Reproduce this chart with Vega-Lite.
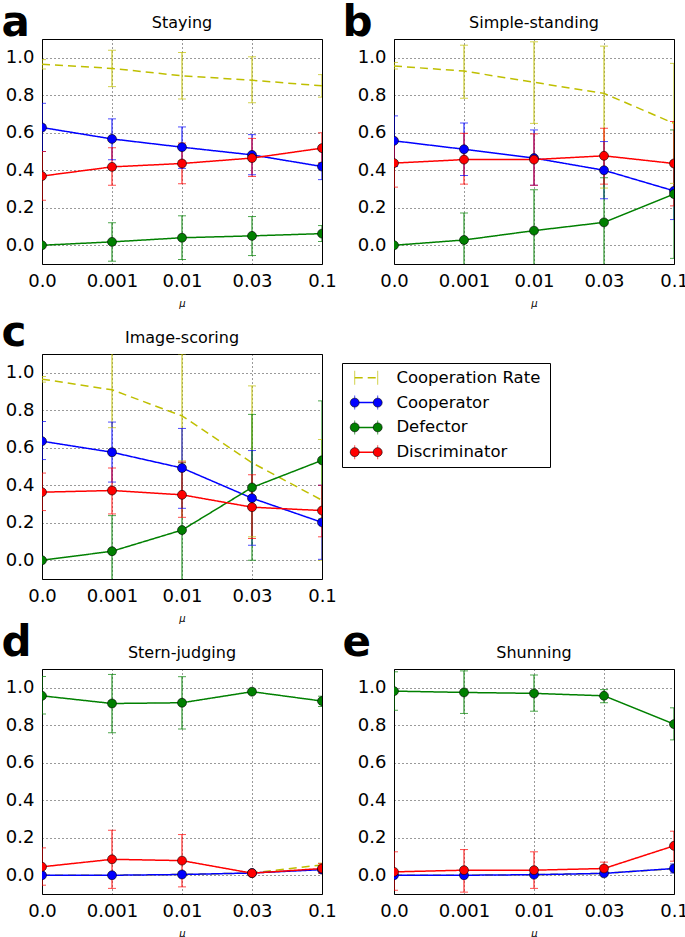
{
"$schema": "https://vega.github.io/schema/vega-lite/v6.json",
"padding": 0,
"background": "white",
"datasets": {
"d": [
{"p":"a","mu":"0.0","s":"Cooperation Rate","v":0.965,"lo":0.94,"hi":0.99},
{"p":"a","mu":"0.001","s":"Cooperation Rate","v":0.943,"lo":0.846,"hi":1.04},
{"p":"a","mu":"0.01","s":"Cooperation Rate","v":0.904,"lo":0.78,"hi":1.028},
{"p":"a","mu":"0.03","s":"Cooperation Rate","v":0.88,"lo":0.76,"hi":1.005},
{"p":"a","mu":"0.1","s":"Cooperation Rate","v":0.85,"lo":0.79,"hi":0.91},
{"p":"a","mu":"0.0","s":"Cooperator","v":0.628,"lo":0.5,"hi":0.757},
{"p":"a","mu":"0.001","s":"Cooperator","v":0.567,"lo":0.456,"hi":0.674},
{"p":"a","mu":"0.01","s":"Cooperator","v":0.523,"lo":0.41,"hi":0.631},
{"p":"a","mu":"0.03","s":"Cooperator","v":0.482,"lo":0.376,"hi":0.59},
{"p":"a","mu":"0.1","s":"Cooperator","v":0.42,"lo":0.35,"hi":0.52},
{"p":"a","mu":"0.0","s":"Defector","v":0.0,"lo":null,"hi":null},
{"p":"a","mu":"0.001","s":"Defector","v":0.018,"lo":-0.085,"hi":0.12},
{"p":"a","mu":"0.01","s":"Defector","v":0.04,"lo":-0.076,"hi":0.157},
{"p":"a","mu":"0.03","s":"Defector","v":0.05,"lo":-0.055,"hi":0.153},
{"p":"a","mu":"0.1","s":"Defector","v":0.062,"lo":0.02,"hi":0.105},
{"p":"a","mu":"0.0","s":"Discriminator","v":0.369,"lo":0.24,"hi":0.5},
{"p":"a","mu":"0.001","s":"Discriminator","v":0.418,"lo":0.32,"hi":0.52},
{"p":"a","mu":"0.01","s":"Discriminator","v":0.436,"lo":0.328,"hi":0.545},
{"p":"a","mu":"0.03","s":"Discriminator","v":0.465,"lo":0.367,"hi":0.57},
{"p":"a","mu":"0.1","s":"Discriminator","v":0.518,"lo":0.44,"hi":0.6},

{"p":"b","mu":"0.0","s":"Cooperation Rate","v":0.956,"lo":0.94,"hi":0.975},
{"p":"b","mu":"0.001","s":"Cooperation Rate","v":0.929,"lo":0.784,"hi":1.067},
{"p":"b","mu":"0.01","s":"Cooperation Rate","v":0.869,"lo":0.65,"hi":1.085},
{"p":"b","mu":"0.03","s":"Cooperation Rate","v":0.81,"lo":0.305,"hi":1.062},
{"p":"b","mu":"0.1","s":"Cooperation Rate","v":0.65,"lo":0.33,"hi":0.97},
{"p":"b","mu":"0.0","s":"Cooperator","v":0.557,"lo":0.42,"hi":0.69},
{"p":"b","mu":"0.001","s":"Cooperator","v":0.512,"lo":0.372,"hi":0.652},
{"p":"b","mu":"0.01","s":"Cooperator","v":0.465,"lo":0.32,"hi":0.615},
{"p":"b","mu":"0.03","s":"Cooperator","v":0.4,"lo":0.248,"hi":0.553},
{"p":"b","mu":"0.1","s":"Cooperator","v":0.29,"lo":0.137,"hi":0.44},
{"p":"b","mu":"0.0","s":"Defector","v":0.0,"lo":null,"hi":null},
{"p":"b","mu":"0.001","s":"Defector","v":0.028,"lo":-0.12,"hi":0.172},
{"p":"b","mu":"0.01","s":"Defector","v":0.078,"lo":-0.14,"hi":0.296},
{"p":"b","mu":"0.03","s":"Defector","v":0.122,"lo":-0.12,"hi":0.36},
{"p":"b","mu":"0.1","s":"Defector","v":0.273,"lo":-0.07,"hi":0.615},
{"p":"b","mu":"0.0","s":"Discriminator","v":0.438,"lo":0.31,"hi":0.57},
{"p":"b","mu":"0.001","s":"Discriminator","v":0.457,"lo":0.326,"hi":0.597},
{"p":"b","mu":"0.01","s":"Discriminator","v":0.457,"lo":0.32,"hi":0.594},
{"p":"b","mu":"0.03","s":"Discriminator","v":0.477,"lo":0.326,"hi":0.624},
{"p":"b","mu":"0.1","s":"Discriminator","v":0.436,"lo":0.21,"hi":0.66},

{"p":"c","mu":"0.0","s":"Cooperation Rate","v":0.966,"lo":0.95,"hi":0.98},
{"p":"c","mu":"0.001","s":"Cooperation Rate","v":0.909,"lo":0.707,"hi":1.2},
{"p":"c","mu":"0.01","s":"Cooperation Rate","v":0.77,"lo":0.53,"hi":1.1},
{"p":"c","mu":"0.03","s":"Cooperation Rate","v":0.52,"lo":0.125,"hi":0.93},
{"p":"c","mu":"0.1","s":"Cooperation Rate","v":0.32,"lo":0.0,"hi":0.644},
{"p":"c","mu":"0.0","s":"Cooperator","v":0.635,"lo":0.537,"hi":0.74},
{"p":"c","mu":"0.001","s":"Cooperator","v":0.576,"lo":0.417,"hi":0.737},
{"p":"c","mu":"0.01","s":"Cooperator","v":0.492,"lo":0.277,"hi":0.703},
{"p":"c","mu":"0.03","s":"Cooperator","v":0.331,"lo":0.08,"hi":0.585},
{"p":"c","mu":"0.1","s":"Cooperator","v":0.202,"lo":0.005,"hi":0.4},
{"p":"c","mu":"0.0","s":"Defector","v":0.0,"lo":null,"hi":null},
{"p":"c","mu":"0.001","s":"Defector","v":0.048,"lo":-0.14,"hi":0.238},
{"p":"c","mu":"0.01","s":"Defector","v":0.161,"lo":-0.2,"hi":0.52},
{"p":"c","mu":"0.03","s":"Defector","v":0.388,"lo":0.0,"hi":0.778},
{"p":"c","mu":"0.1","s":"Defector","v":0.533,"lo":0.22,"hi":0.85},
{"p":"c","mu":"0.0","s":"Discriminator","v":0.363,"lo":0.265,"hi":0.465},
{"p":"c","mu":"0.001","s":"Discriminator","v":0.372,"lo":0.247,"hi":0.492},
{"p":"c","mu":"0.01","s":"Discriminator","v":0.349,"lo":0.229,"hi":0.524},
{"p":"c","mu":"0.03","s":"Discriminator","v":0.283,"lo":0.116,"hi":0.456},
{"p":"c","mu":"0.1","s":"Discriminator","v":0.265,"lo":0.125,"hi":0.4},

{"p":"d","mu":"0.0","s":"Cooperation Rate","v":0.0,"lo":null,"hi":null},
{"p":"d","mu":"0.001","s":"Cooperation Rate","v":0.0,"lo":null,"hi":null},
{"p":"d","mu":"0.01","s":"Cooperation Rate","v":0.004,"lo":null,"hi":null},
{"p":"d","mu":"0.03","s":"Cooperation Rate","v":0.012,"lo":null,"hi":null},
{"p":"d","mu":"0.1","s":"Cooperation Rate","v":0.055,"lo":0.045,"hi":0.065},
{"p":"d","mu":"0.0","s":"Cooperator","v":0.0,"lo":null,"hi":null},
{"p":"d","mu":"0.001","s":"Cooperator","v":0.0,"lo":null,"hi":null},
{"p":"d","mu":"0.01","s":"Cooperator","v":0.004,"lo":null,"hi":null},
{"p":"d","mu":"0.03","s":"Cooperator","v":0.012,"lo":null,"hi":null},
{"p":"d","mu":"0.1","s":"Cooperator","v":0.03,"lo":null,"hi":null},
{"p":"d","mu":"0.0","s":"Defector","v":0.957,"lo":0.86,"hi":1.06},
{"p":"d","mu":"0.001","s":"Defector","v":0.916,"lo":0.76,"hi":1.071},
{"p":"d","mu":"0.01","s":"Defector","v":0.92,"lo":0.78,"hi":1.059},
{"p":"d","mu":"0.03","s":"Defector","v":0.979,"lo":0.97,"hi":0.99},
{"p":"d","mu":"0.1","s":"Defector","v":0.929,"lo":0.9,"hi":0.955},
{"p":"d","mu":"0.0","s":"Discriminator","v":0.045,"lo":-0.053,"hi":0.146},
{"p":"d","mu":"0.001","s":"Discriminator","v":0.085,"lo":-0.07,"hi":0.24},
{"p":"d","mu":"0.01","s":"Discriminator","v":0.078,"lo":-0.062,"hi":0.217},
{"p":"d","mu":"0.03","s":"Discriminator","v":0.011,"lo":0.0,"hi":0.02},
{"p":"d","mu":"0.1","s":"Discriminator","v":0.036,"lo":0.01,"hi":0.062},

{"p":"e","mu":"0.0","s":"Cooperation Rate","v":0.0,"lo":null,"hi":null},
{"p":"e","mu":"0.001","s":"Cooperation Rate","v":0.0,"lo":null,"hi":null},
{"p":"e","mu":"0.01","s":"Cooperation Rate","v":0.003,"lo":null,"hi":null},
{"p":"e","mu":"0.03","s":"Cooperation Rate","v":0.01,"lo":null,"hi":null},
{"p":"e","mu":"0.1","s":"Cooperation Rate","v":0.035,"lo":null,"hi":null},
{"p":"e","mu":"0.0","s":"Cooperator","v":0.0,"lo":null,"hi":null},
{"p":"e","mu":"0.001","s":"Cooperator","v":0.0,"lo":null,"hi":null},
{"p":"e","mu":"0.01","s":"Cooperator","v":0.003,"lo":null,"hi":null},
{"p":"e","mu":"0.03","s":"Cooperator","v":0.01,"lo":null,"hi":null},
{"p":"e","mu":"0.1","s":"Cooperator","v":0.036,"lo":0.012,"hi":0.06},
{"p":"e","mu":"0.0","s":"Defector","v":0.982,"lo":0.88,"hi":1.085},
{"p":"e","mu":"0.001","s":"Defector","v":0.975,"lo":0.863,"hi":1.09},
{"p":"e","mu":"0.01","s":"Defector","v":0.97,"lo":0.875,"hi":1.068},
{"p":"e","mu":"0.03","s":"Defector","v":0.957,"lo":0.92,"hi":0.99},
{"p":"e","mu":"0.1","s":"Defector","v":0.806,"lo":0.722,"hi":0.893},
{"p":"e","mu":"0.0","s":"Discriminator","v":0.018,"lo":-0.08,"hi":0.125},
{"p":"e","mu":"0.001","s":"Discriminator","v":0.027,"lo":-0.09,"hi":0.137},
{"p":"e","mu":"0.01","s":"Discriminator","v":0.027,"lo":-0.07,"hi":0.125},
{"p":"e","mu":"0.03","s":"Discriminator","v":0.036,"lo":0.01,"hi":0.07},
{"p":"e","mu":"0.1","s":"Discriminator","v":0.157,"lo":0.075,"hi":0.235}
],
"leg": [{"s":"Cooperation Rate"},{"s":"Cooperator"},{"s":"Defector"},{"s":"Discriminator"}]
},
"vconcat": [
{"hconcat": [
{"width":280,"height":225,"title":{"text":"Staying","dy":33.5},"data":{"name":"d"},"transform":[{"filter":"datum.p == 'a'"}],
 "encoding":{"x":{"field":"mu","type":"ordinal","sort":["0.0","0.001","0.01","0.03","0.1"],"scale":{"type":"point","padding":0},"axis":{"title":"μ"}},
  "color":{"field":"s","type":"nominal","scale":{"domain":["Cooperation Rate","Cooperator","Defector","Discriminator"],"range":["#bfbf00","#0000ff","#008000","#ff0000"]},"legend":null}},
 "layer":[
  {"transform":[{"filter":"isValid(datum.lo)"}],"mark":{"type":"rule","clip":true,"strokeWidth":1},"encoding":{"y":{"field":"lo","type":"quantitative","scale":{"domain":[-0.1,1.1],"nice":false,"zero":false},"axis":{"title":"a","titleX":-41,"titleY":-4}},"y2":{"field":"hi"}}},
  {"transform":[{"filter":"isValid(datum.lo)"}],"mark":{"type":"tick","clip":true,"size":8,"thickness":1},"encoding":{"y":{"field":"lo","type":"quantitative","title":"a"}}},
  {"transform":[{"filter":"isValid(datum.lo)"}],"mark":{"type":"tick","clip":true,"size":8,"thickness":1},"encoding":{"y":{"field":"hi","type":"quantitative","title":"a"}}},
  {"mark":{"type":"line","clip":true,"strokeWidth":1.5},"encoding":{"y":{"field":"v","type":"quantitative","title":"a"},"strokeDash":{"field":"s","type":"nominal","scale":{"domain":["Cooperation Rate","Cooperator","Defector","Discriminator"],"range":[[8,5],[1,0],[1,0],[1,0]]},"legend":null}}},
  {"transform":[{"filter":"datum.s != 'Cooperation Rate'"}],"mark":{"type":"point","filled":true,"size":80,"clip":true,"stroke":"#000","strokeWidth":0.6,"opacity":1},"encoding":{"y":{"field":"v","type":"quantitative","title":"a"}}}
 ]},
{"width":280,"height":225,"title":{"text":"Simple-standing","dy":33.5},"data":{"name":"d"},"transform":[{"filter":"datum.p == 'b'"}],
 "encoding":{"x":{"field":"mu","type":"ordinal","sort":["0.0","0.001","0.01","0.03","0.1"],"scale":{"type":"point","padding":0},"axis":{"title":"μ"}},
  "color":{"field":"s","type":"nominal","scale":{"domain":["Cooperation Rate","Cooperator","Defector","Discriminator"],"range":["#bfbf00","#0000ff","#008000","#ff0000"]},"legend":null}},
 "layer":[
  {"transform":[{"filter":"isValid(datum.lo)"}],"mark":{"type":"rule","clip":true,"strokeWidth":1},"encoding":{"y":{"field":"lo","type":"quantitative","scale":{"domain":[-0.1,1.1],"nice":false,"zero":false},"axis":{"title":"b","titleX":-52,"titleY":-4}},"y2":{"field":"hi"}}},
  {"transform":[{"filter":"isValid(datum.lo)"}],"mark":{"type":"tick","clip":true,"size":8,"thickness":1},"encoding":{"y":{"field":"lo","type":"quantitative","title":"b"}}},
  {"transform":[{"filter":"isValid(datum.lo)"}],"mark":{"type":"tick","clip":true,"size":8,"thickness":1},"encoding":{"y":{"field":"hi","type":"quantitative","title":"b"}}},
  {"mark":{"type":"line","clip":true,"strokeWidth":1.5},"encoding":{"y":{"field":"v","type":"quantitative","title":"b"},"strokeDash":{"field":"s","type":"nominal","scale":{"domain":["Cooperation Rate","Cooperator","Defector","Discriminator"],"range":[[8,5],[1,0],[1,0],[1,0]]},"legend":null}}},
  {"transform":[{"filter":"datum.s != 'Cooperation Rate'"}],"mark":{"type":"point","filled":true,"size":80,"clip":true,"stroke":"#000","strokeWidth":0.6,"opacity":1},"encoding":{"y":{"field":"v","type":"quantitative","title":"b"}}}
 ]}
],"spacing":4},
{"vconcat": [
{"hconcat": [
{"width":280,"height":225,"title":{"text":"Image-scoring","dy":38.5},"data":{"name":"d"},"transform":[{"filter":"datum.p == 'c'"}],
 "encoding":{"x":{"field":"mu","type":"ordinal","sort":["0.0","0.001","0.01","0.03","0.1"],"scale":{"type":"point","padding":0},"axis":{"title":"μ"}},
  "color":{"field":"s","type":"nominal","scale":{"domain":["Cooperation Rate","Cooperator","Defector","Discriminator"],"range":["#bfbf00","#0000ff","#008000","#ff0000"]},"legend":null}},
 "layer":[
  {"transform":[{"filter":"isValid(datum.lo)"}],"mark":{"type":"rule","clip":true,"strokeWidth":1},"encoding":{"y":{"field":"lo","type":"quantitative","scale":{"domain":[-0.1,1.1],"nice":false,"zero":false},"axis":{"title":"c","titleX":-41,"titleY":-9}},"y2":{"field":"hi"}}},
  {"transform":[{"filter":"isValid(datum.lo)"}],"mark":{"type":"tick","clip":true,"size":8,"thickness":1},"encoding":{"y":{"field":"lo","type":"quantitative","title":"c"}}},
  {"transform":[{"filter":"isValid(datum.lo)"}],"mark":{"type":"tick","clip":true,"size":8,"thickness":1},"encoding":{"y":{"field":"hi","type":"quantitative","title":"c"}}},
  {"mark":{"type":"line","clip":true,"strokeWidth":1.5},"encoding":{"y":{"field":"v","type":"quantitative","title":"c"},"strokeDash":{"field":"s","type":"nominal","scale":{"domain":["Cooperation Rate","Cooperator","Defector","Discriminator"],"range":[[8,5],[1,0],[1,0],[1,0]]},"legend":null}}},
  {"transform":[{"filter":"datum.s != 'Cooperation Rate'"}],"mark":{"type":"point","filled":true,"size":80,"clip":true,"stroke":"#000","strokeWidth":0.6,"opacity":1},"encoding":{"y":{"field":"v","type":"quantitative","title":"c"}}}
 ]},
{"vconcat": [
 {"width":208,"height":1,"data":{"values":[{"s":"Cooperator"}]},"mark":{"type":"point","opacity":0,"size":1},"view":{"stroke":null}},
 {"width":208,"height":104,"data":{"name":"leg"},
 "encoding":{"y":{"field":"s","type":"nominal","scale":{"type":"point","padding":0.6,"domain":["Cooperation Rate","Cooperator","Defector","Discriminator"]},"axis":null},
  "color":{"field":"s","type":"nominal","scale":{"domain":["Cooperation Rate","Cooperator","Defector","Discriminator"],"range":["#bfbf00","#0000ff","#008000","#ff0000"]},"legend":null}},
 "layer":[
  {"mark":{"type":"rule","strokeWidth":1.5},"encoding":{"x":{"datum":12.7,"type":"quantitative","scale":{"domain":[0,208],"nice":false,"zero":false},"axis":null},"x2":{"datum":35.7},"strokeDash":{"field":"s","type":"nominal","scale":{"domain":["Cooperation Rate","Cooperator","Defector","Discriminator"],"range":[[8,5],[1,0],[1,0],[1,0]]},"legend":null}}},
  {"mark":{"type":"tick","size":14,"thickness":1,"orient":"vertical"},"encoding":{"x":{"datum":12.7,"type":"quantitative"}}},
  {"mark":{"type":"tick","size":14,"thickness":1,"orient":"vertical"},"encoding":{"x":{"datum":35.7,"type":"quantitative"}}},
  {"transform":[{"filter":"datum.s != 'Cooperation Rate'"}],"mark":{"type":"point","filled":true,"size":80,"stroke":"#000","strokeWidth":0.6,"opacity":1},"encoding":{"x":{"datum":12.7,"type":"quantitative"}}},
  {"transform":[{"filter":"datum.s != 'Cooperation Rate'"}],"mark":{"type":"point","filled":true,"size":80,"stroke":"#000","strokeWidth":0.6,"opacity":1},"encoding":{"x":{"datum":35.7,"type":"quantitative"}}},
  {"mark":{"type":"text","align":"left","baseline":"middle","fontSize":16.5,"font":"DejaVu Sans"},"encoding":{"x":{"datum":54.4,"type":"quantitative"},"text":{"field":"s"},"color":{"value":"#000"}}}
 ]}
],"spacing":7}
],"spacing":4},
{"hconcat": [
{"width":280,"height":225,"title":{"text":"Stern-judging","dy":43.5},"data":{"name":"d"},"transform":[{"filter":"datum.p == 'd'"}],
 "encoding":{"x":{"field":"mu","type":"ordinal","sort":["0.0","0.001","0.01","0.03","0.1"],"scale":{"type":"point","padding":0},"axis":{"title":"μ"}},
  "color":{"field":"s","type":"nominal","scale":{"domain":["Cooperation Rate","Cooperator","Defector","Discriminator"],"range":["#bfbf00","#0000ff","#008000","#ff0000"]},"legend":null}},
 "layer":[
  {"transform":[{"filter":"isValid(datum.lo)"}],"mark":{"type":"rule","clip":true,"strokeWidth":1},"encoding":{"y":{"field":"lo","type":"quantitative","scale":{"domain":[-0.1,1.1],"nice":false,"zero":false},"axis":{"title":"d","titleX":-41,"titleY":-14}},"y2":{"field":"hi"}}},
  {"transform":[{"filter":"isValid(datum.lo)"}],"mark":{"type":"tick","clip":true,"size":8,"thickness":1},"encoding":{"y":{"field":"lo","type":"quantitative","title":"d"}}},
  {"transform":[{"filter":"isValid(datum.lo)"}],"mark":{"type":"tick","clip":true,"size":8,"thickness":1},"encoding":{"y":{"field":"hi","type":"quantitative","title":"d"}}},
  {"mark":{"type":"line","clip":true,"strokeWidth":1.5},"encoding":{"y":{"field":"v","type":"quantitative","title":"d"},"strokeDash":{"field":"s","type":"nominal","scale":{"domain":["Cooperation Rate","Cooperator","Defector","Discriminator"],"range":[[8,5],[1,0],[1,0],[1,0]]},"legend":null}}},
  {"transform":[{"filter":"datum.s != 'Cooperation Rate'"}],"mark":{"type":"point","filled":true,"size":80,"clip":true,"stroke":"#000","strokeWidth":0.6,"opacity":1},"encoding":{"y":{"field":"v","type":"quantitative","title":"d"}}}
 ]},
{"width":280,"height":225,"title":{"text":"Shunning","dy":43.5},"data":{"name":"d"},"transform":[{"filter":"datum.p == 'e'"}],
 "encoding":{"x":{"field":"mu","type":"ordinal","sort":["0.0","0.001","0.01","0.03","0.1"],"scale":{"type":"point","padding":0},"axis":{"title":"μ"}},
  "color":{"field":"s","type":"nominal","scale":{"domain":["Cooperation Rate","Cooperator","Defector","Discriminator"],"range":["#bfbf00","#0000ff","#008000","#ff0000"]},"legend":null}},
 "layer":[
  {"transform":[{"filter":"isValid(datum.lo)"}],"mark":{"type":"rule","clip":true,"strokeWidth":1},"encoding":{"y":{"field":"lo","type":"quantitative","scale":{"domain":[-0.1,1.1],"nice":false,"zero":false},"axis":{"title":"e","titleX":-52,"titleY":-14}},"y2":{"field":"hi"}}},
  {"transform":[{"filter":"isValid(datum.lo)"}],"mark":{"type":"tick","clip":true,"size":8,"thickness":1},"encoding":{"y":{"field":"lo","type":"quantitative","title":"e"}}},
  {"transform":[{"filter":"isValid(datum.lo)"}],"mark":{"type":"tick","clip":true,"size":8,"thickness":1},"encoding":{"y":{"field":"hi","type":"quantitative","title":"e"}}},
  {"mark":{"type":"line","clip":true,"strokeWidth":1.5},"encoding":{"y":{"field":"v","type":"quantitative","title":"e"},"strokeDash":{"field":"s","type":"nominal","scale":{"domain":["Cooperation Rate","Cooperator","Defector","Discriminator"],"range":[[8,5],[1,0],[1,0],[1,0]]},"legend":null}}},
  {"transform":[{"filter":"datum.s != 'Cooperation Rate'"}],"mark":{"type":"point","filled":true,"size":80,"clip":true,"stroke":"#000","strokeWidth":0.6,"opacity":1},"encoding":{"y":{"field":"v","type":"quantitative","title":"e"}}}
 ]}
],"spacing":4}
],"spacing":-4}
],
"spacing": 1,
"config": {
 "font": "DejaVu Sans",
 "view": {"stroke": "#000", "strokeWidth": 1},
 "axis": {"grid": true, "gridColor": "#000", "gridDash": [1,3], "gridWidth": 0.8, "gridOpacity": 1, "domain": false, "ticks": false, "labelFontSize": 18, "labelColor": "#000", "labelFont": "DejaVu Sans", "titleColor": "#000", "titleFont": "DejaVu Sans"},
 "axisX": {"labelAngle": 0, "labelPadding": 8, "labelFlush": false, "titleFontSize": 10, "titleFontStyle": "italic", "titleFontWeight": "normal", "titlePadding": 8},
 "axisY": {"labelPadding": 8, "values": [0,0.2,0.4,0.6,0.8,1.0], "format": ".1f", "titleAngle": 0, "titleFontSize": 42, "titleFontWeight": "bold", "titleAlign": "left", "titleBaseline": "alphabetic"},
 "title": {"fontSize": 16, "fontWeight": "normal", "font": "DejaVu Sans", "color": "#000", "offset": 0, "baseline": "alphabetic"}
}
}
